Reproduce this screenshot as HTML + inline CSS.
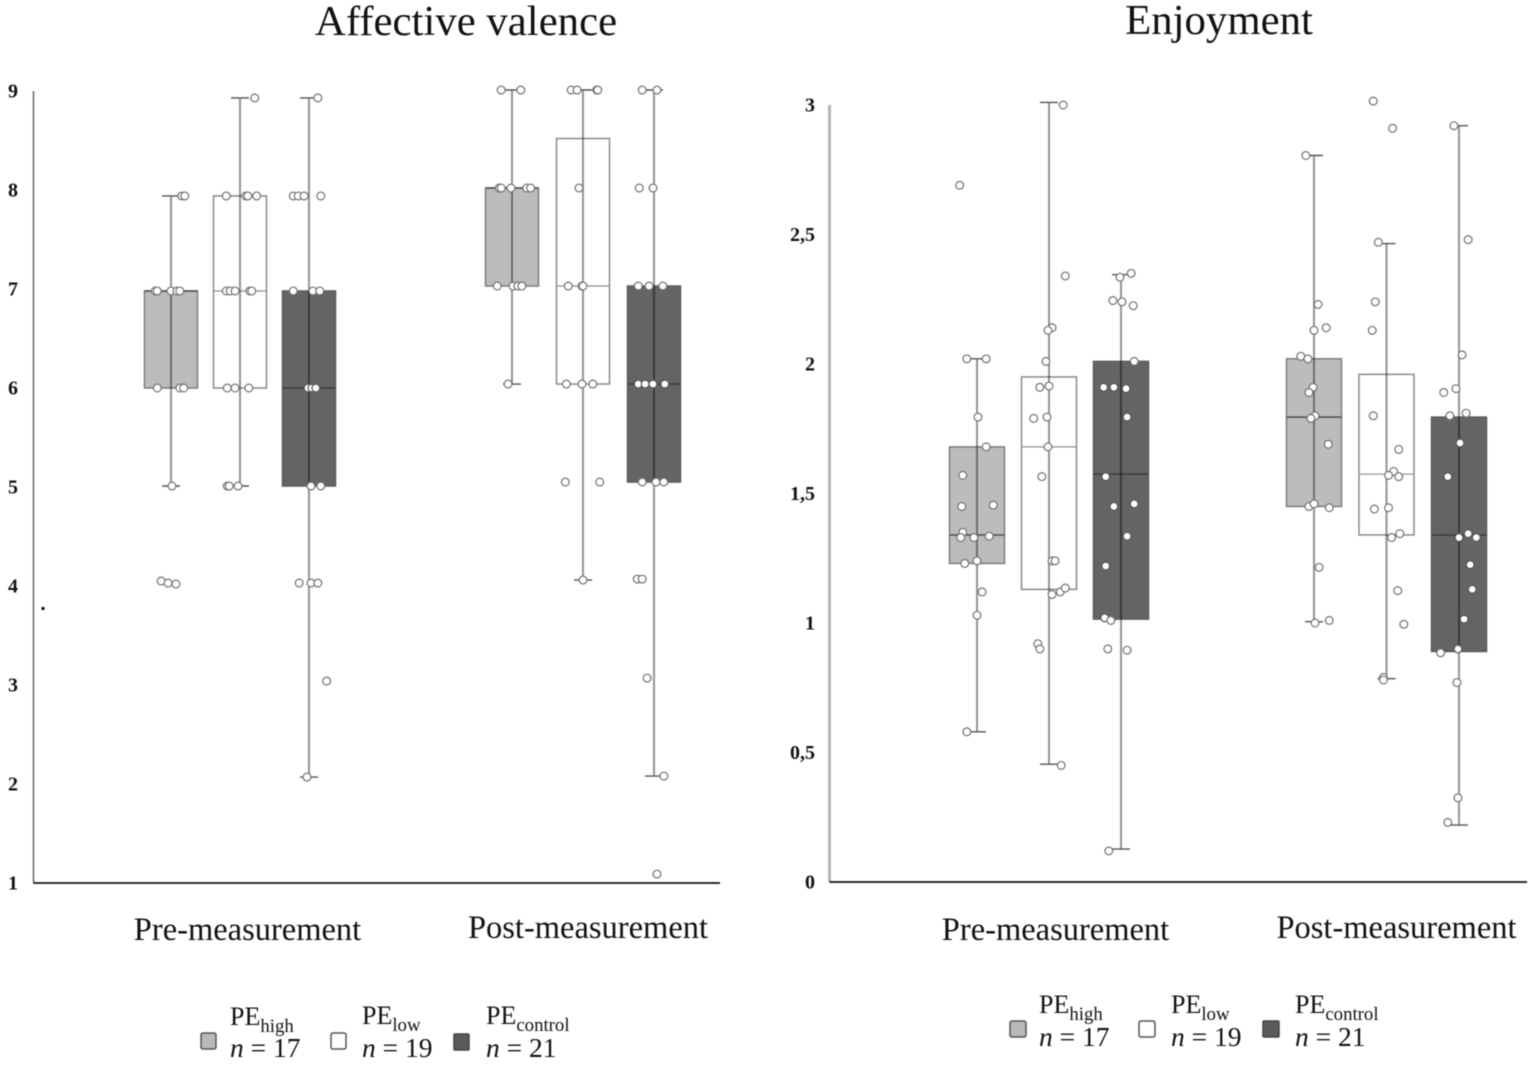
<!DOCTYPE html>
<html lang="en">
<head>
<meta charset="utf-8">
<title>Affective valence and enjoyment box plots</title>
<style>
html,body{margin:0;padding:0;background:#fff;}
svg{display:block;filter:blur(0.6px);}
text{font-family:"Liberation Serif",serif;fill:#111;}
</style>
</head>
<body>
<svg id="chart" width="1535" height="1066" viewBox="0 0 1535 1066" xmlns="http://www.w3.org/2000/svg">
  <rect x="0" y="0" width="1535" height="1066" fill="#fff"/>
  <text x="466" y="35" font-size="42.8" text-anchor="middle">Affective valence</text>
  <text x="1219" y="34" font-size="42.8" text-anchor="middle">Enjoyment</text>
  <rect x="41.5" y="607" width="3" height="3" fill="#111"/>

  <g>
    <rect x="201" y="1033" width="15" height="16" rx="2" fill="#b9b9b9" stroke="#555" stroke-width="1.5"/>
    <text x="230" y="1025" font-size="26">PE<tspan font-size="18.8" dy="7">high</tspan></text>
    <text x="230" y="1057" font-size="27.5"><tspan font-style="italic">n</tspan> = 17</text>
    <rect x="331" y="1033" width="15" height="16" rx="2" fill="#fff" stroke="#555" stroke-width="1.5"/>
    <text x="362" y="1024" font-size="26">PE<tspan font-size="18.8" dy="7">low</tspan></text>
    <text x="362" y="1057" font-size="27.5"><tspan font-style="italic">n</tspan> = 19</text>
    <rect x="454" y="1034" width="15" height="16" rx="1" fill="#5a5a5a" stroke="#444" stroke-width="1.5"/>
    <text x="486" y="1024" font-size="26">PE<tspan font-size="18.8" dy="7">control</tspan></text>
    <text x="486" y="1057" font-size="27.5"><tspan font-style="italic">n</tspan> = 21</text>
  </g>

  <g>
    <rect x="1010" y="1021" width="16" height="16" rx="2" fill="#b9b9b9" stroke="#555" stroke-width="1.5"/>
    <text x="1039" y="1013" font-size="26">PE<tspan font-size="18.8" dy="7">high</tspan></text>
    <text x="1039" y="1046" font-size="27.5"><tspan font-style="italic">n</tspan> = 17</text>
    <rect x="1139" y="1021" width="16" height="16" rx="2" fill="#fff" stroke="#555" stroke-width="1.5"/>
    <text x="1171" y="1013" font-size="26">PE<tspan font-size="18.8" dy="7">low</tspan></text>
    <text x="1171" y="1046" font-size="27.5"><tspan font-style="italic">n</tspan> = 19</text>
    <rect x="1263" y="1021" width="16" height="16" rx="1" fill="#5a5a5a" stroke="#444" stroke-width="1.5"/>
    <text x="1295" y="1013" font-size="26">PE<tspan font-size="18.8" dy="7">control</tspan></text>
    <text x="1295" y="1046" font-size="27.5"><tspan font-style="italic">n</tspan> = 21</text>
  </g>
</svg>

<script>
// ---- shared categories ----
const measurementLabels = ['Pre-measurement', 'Post-measurement'];
const groupNames = ['high', 'low', 'control'];

// ---- Affective valence: tick labels ----
const valenceTicks = [1, 2, 3, 4, 5, 6, 7, 8, 9];
const valenceTickLabels = ['1', '2', '3', '4', '5', '6', '7', '8', '9'];

// ---- Affective valence: box statistics, [pre, post] x [high, low, control] ----
const valenceWhiskerLow = [[5.01, 5.01, 2.07], [6.04, 4.06, 2.08]];
const valenceQ1 = [[6.0, 6.0, 5.01], [7.03, 6.04, 5.05]];
const valenceMedian = [[6.98, 6.98, 6.0], [8.02, 7.03, 6.04]];
const valenceQ3 = [[6.98, 7.94, 6.98], [8.02, 8.52, 7.03]];
const valenceWhiskerHigh = [[7.94, 8.93, 8.93], [9.01, 9.01, 9.01]];

// ---- Affective valence: individual scores and horizontal jitter (1 unit = 1/54 box width) ----
const valencePreHighScores = [7.94, 7.94, 6.98, 6.98, 6.98, 6.98, 6.98, 6.0, 6.0, 6.0, 5.01, 4.05, 4.03, 4.02];
const valencePreHighJitter = [11, 14, -16, -14, 0, 6, 9, -14, 9, 13, 1, -10, -3, 5];
const valencePreLowScores = [8.93, 7.94, 7.94, 7.94, 7.94, 6.98, 6.98, 6.98, 6.98, 6.98, 6.0, 6.0, 6.0, 5.01, 5.01, 5.01];
const valencePreLowJitter = [15, -14, 6, 8, 17, -14, -10, -5, 10, 12, -13, -5, 9, -13, -11, -2];
const valencePreControlScores = [8.93, 7.94, 7.94, 7.94, 7.94, 6.98, 6.98, 6.98, 6.0, 6.0, 6.0, 5.01, 5.01, 4.03, 4.03, 4.03, 3.04, 2.07];
const valencePreControlJitter = [9, -16, -11, -5, 12, -16, 4, 11, -1, 3, 7, 2, 12, -10, 2, 9, 18, -2];
const valencePostHighScores = [9.01, 9.01, 8.02, 8.02, 8.02, 8.02, 8.02, 7.03, 7.03, 7.03, 7.03, 6.04];
const valencePostHighJitter = [-11, 9, -13, -11, -1, 15, 19, -15, 1, 6, 10, -4];
const valencePostLowScores = [9.01, 9.01, 9.01, 9.01, 8.02, 7.03, 7.03, 7.03, 6.04, 6.04, 6.04, 5.05, 5.05, 4.06];
const valencePostLowJitter = [-12, -6, 14, 15, -4, -15, -1, 0, -17, -1, 10, -18, 17, 0];
const valencePostControlScores = [9.01, 9.01, 8.02, 8.02, 7.03, 7.03, 7.03, 6.04, 6.04, 6.04, 6.04, 5.05, 5.05, 5.05, 4.07, 4.07, 3.07, 2.08, 1.09];
const valencePostControlJitter = [-12, 3, -15, -1, -16, -5, 9, -16, -9, -1, 11, -12, 2, 10, -17, -12, -7, 10, 3];

// ---- Enjoyment: tick labels ----
const enjoymentTicks = [0, 0.5, 1, 1.5, 2, 2.5, 3];
const enjoymentTickLabels = ['0', '0,5', '1', '1,5', '2', '2,5', '3'];

// ---- Enjoyment: box statistics ----
const enjoymentWhiskerLow = [[0.58, 0.455, 0.127], [1.005, 0.785, 0.22]];
const enjoymentQ1 = [[1.23, 1.13, 1.015], [1.45, 1.34, 0.89]];
const enjoymentMedian = [[1.34, 1.68, 1.575], [1.795, 1.575, 1.34]];
const enjoymentQ3 = [[1.68, 1.95, 2.01], [2.02, 1.96, 1.795]];
const enjoymentWhiskerHigh = [[2.02, 3.01, 2.345], [2.805, 2.465, 2.92]];

// ---- Enjoyment: individual scores and horizontal jitter ----
const enjoymentPreHighScores = [2.69, 2.02, 2.02, 1.795, 1.68, 1.57, 1.45, 1.455, 1.35, 1.33, 1.33, 1.335, 1.23, 1.24, 1.12, 1.03, 0.58];
const enjoymentPreHighJitter = [-17, -10, 9, 1, 9, -14, -15, 16, -14, -16, -3, 12, -12, 0, 5, 0, -10];
const enjoymentPreLowScores = [3.0, 2.34, 2.14, 2.13, 2.01, 1.91, 1.915, 1.79, 1.795, 1.68, 1.565, 1.24, 1.24, 1.11, 1.12, 1.135, 0.92, 0.9, 0.45];
const enjoymentPreLowJitter = [14, 16, 3, -1, -3, -9, 0, -15, -2, -1, -7, 3, 6, 3, 11, 16, -11, -9, 12];
const enjoymentPreControlScores = [2.35, 2.335, 2.245, 2.24, 2.225, 2.01, 1.91, 1.91, 1.905, 1.795, 1.565, 1.45, 1.46, 1.335, 1.22, 1.02, 1.01, 0.9, 0.895, 0.12];
const enjoymentPreControlJitter = [10, -1, -8, 1, 12, 13, -17, -7, 5, 6, -15, -7, 13, 6, -15, -16, -10, -13, 6, -12];
const enjoymentPostHighScores = [2.805, 2.23, 2.13, 2.14, 2.03, 2.02, 1.91, 1.89, 1.8, 1.79, 1.69, 1.45, 1.46, 1.445, 1.215, 1.01, 1.0];
const enjoymentPostHighJitter = [-8, 4, 0, 12, -13, -6, -1, -5, 1, -3, 14, -5, 0, 15, 5, 15, 1];
const enjoymentPostLowScores = [3.015, 2.91, 2.47, 2.24, 2.13, 1.8, 1.67, 1.585, 1.57, 1.565, 1.44, 1.445, 1.345, 1.33, 1.125, 0.995, 0.79, 0.78];
const enjoymentPostLowJitter = [-13, 6, -8, -11, -14, -13, 12, 7, 2, 12, -12, 2, 13, 5, 11, 17, -3, -3];
const enjoymentPostControlScores = [2.92, 2.48, 2.035, 1.905, 1.89, 1.8, 1.81, 1.695, 1.565, 1.345, 1.33, 1.33, 1.225, 1.13, 1.015, 0.9, 0.885, 0.77, 0.325, 0.23];
const enjoymentPostControlJitter = [-5, 9, 3, -3, -15, -9, 7, 1, -11, 9, 0, 17, 11, 13, 5, -1, -18, -2, -1, -11];

const SVG_NS = 'http://www.w3.org/2000/svg';
const chart = document.getElementById('chart');

function node(tag, attrs, parent) {
  const el = document.createElementNS(SVG_NS, tag);
  for (const k in attrs) el.setAttribute(k, attrs[k]);
  parent.appendChild(el);
  return el;
}

const groupStyles = [
  { fill: '#bcbcbc', stroke: '#7c7c7c', median: '#4e4e4e', medianWidth: 1.5 },
  { fill: '#ffffff', stroke: '#8a8a8a', median: '#8f8f8f', medianWidth: 1.2 },
  { fill: '#646464', stroke: '#5c5c5c', median: '#3c3c3c', medianWidth: 1.5 }
];

function drawPanel(p) {
  const yScale = function (v) { return p.y0 - (v - p.vMin) * p.yPerUnit; };
  const xCenter = function (m, g) { return p.groupStart[m] + g * p.groupStep[m]; };

  const root = node('g', {}, chart);
  
  

  const yAxis = node('line', { x1: p.axisX, x2: p.axisX, y1: yScale(p.vMax), y2: p.y0, stroke: p.axisColor, 'stroke-width': p.axisWidth }, root);
  
  

  const xAxis = node('line', { x1: p.axisX, x2: p.axisEnd, y1: p.y0, y2: p.y0, stroke: '#111', 'stroke-width': 1.8 }, root);
  
  

  p.ticks.forEach(function (t, i) {
    const label = node('text', { x: p.tickX, y: yScale(t) + 6.5, 'font-size': 20, 'font-weight': 'bold', 'text-anchor': p.tickAnchor }, root);
    
    
    label.textContent = p.tickLabels[i];
  });

  measurementLabels.forEach(function (name, m) {
    const label = node('text', { x: p.labelX[m], y: p.labelY[m], 'font-size': 32.5, 'text-anchor': 'middle' }, root);
    
    
    label.textContent = name;

    groupNames.forEach(function (group, g) {
      const cx = xCenter(m, g);
      const st = groupStyles[g];
      const half = p.boxWidth / 2;
      const series = node('g', {}, root);
      
      

      const box = node('rect', {
        x: cx - half, y: yScale(p.q3[m][g]), width: p.boxWidth,
        height: yScale(p.q1[m][g]) - yScale(p.q3[m][g]),
        fill: st.fill, stroke: st.stroke, 'stroke-width': 1.5
      }, series);
      
      

      const median = node('line', {
        x1: cx - half, x2: cx + half, y1: yScale(p.median[m][g]), y2: yScale(p.median[m][g]),
        stroke: st.median, 'stroke-width': st.medianWidth
      }, series);
      
      

      const whisker = node('line', {
        x1: cx, x2: cx, y1: yScale(p.whiskerHigh[m][g]), y2: yScale(p.whiskerLow[m][g]),
        stroke: '#000', 'stroke-opacity': 0.42, 'stroke-width': 2
      }, series);
      
      

      [p.whiskerHigh[m][g], p.whiskerLow[m][g]].forEach(function (v) {
        const cap = node('line', {
          x1: cx - 9, x2: cx + 9, y1: yScale(v), y2: yScale(v),
          stroke: '#555', 'stroke-width': 1.4
        }, series);
        
        
      });

      const scores = p.scores[m][g];
      const jitter = p.jitter[m][g];
      scores.forEach(function (v, i) {
        const dot = node('circle', {
          cx: cx + jitter[i] * p.boxWidth / 54, cy: yScale(v), r: 3.9,
          fill: '#fff', stroke: g === 2 && v < p.q3[m][g] && v > p.q1[m][g] ? '#555' : '#707070', 'stroke-width': 1.2
        }, series);
        
        
      });
    });
  });
}

drawPanel({
  name: 'valence',
  vMin: 1, vMax: 9, y0: 883, yPerUnit: 99,
  axisX: 33.5, axisEnd: 720, axisColor: '#666', axisWidth: 1.5,
  tickX: 13, tickAnchor: 'middle',
  groupStart: [171, 512], groupStep: [69, 71], boxWidth: 53,
  labelX: [247.5, 588], labelY: [940, 938],
  ticks: valenceTicks, tickLabels: valenceTickLabels,
  whiskerLow: valenceWhiskerLow, q1: valenceQ1, median: valenceMedian, q3: valenceQ3, whiskerHigh: valenceWhiskerHigh,
  scores: [
    [valencePreHighScores, valencePreLowScores, valencePreControlScores],
    [valencePostHighScores, valencePostLowScores, valencePostControlScores]
  ],
  jitter: [
    [valencePreHighJitter, valencePreLowJitter, valencePreControlJitter],
    [valencePostHighJitter, valencePostLowJitter, valencePostControlJitter]
  ]
});

drawPanel({
  name: 'enjoyment',
  vMin: 0, vMax: 3, y0: 882, yPerUnit: 259,
  axisX: 829.5, axisEnd: 1527, axisColor: '#b4b4b4', axisWidth: 3,
  tickX: 815, tickAnchor: 'end',
  groupStart: [977, 1314], groupStep: [72, 72.5], boxWidth: 55,
  labelX: [1055.5, 1396.5], labelY: [940, 938],
  ticks: enjoymentTicks, tickLabels: enjoymentTickLabels,
  whiskerLow: enjoymentWhiskerLow, q1: enjoymentQ1, median: enjoymentMedian, q3: enjoymentQ3, whiskerHigh: enjoymentWhiskerHigh,
  scores: [
    [enjoymentPreHighScores, enjoymentPreLowScores, enjoymentPreControlScores],
    [enjoymentPostHighScores, enjoymentPostLowScores, enjoymentPostControlScores]
  ],
  jitter: [
    [enjoymentPreHighJitter, enjoymentPreLowJitter, enjoymentPreControlJitter],
    [enjoymentPostHighJitter, enjoymentPostLowJitter, enjoymentPostControlJitter]
  ]
});
</script>
</body>
</html>
